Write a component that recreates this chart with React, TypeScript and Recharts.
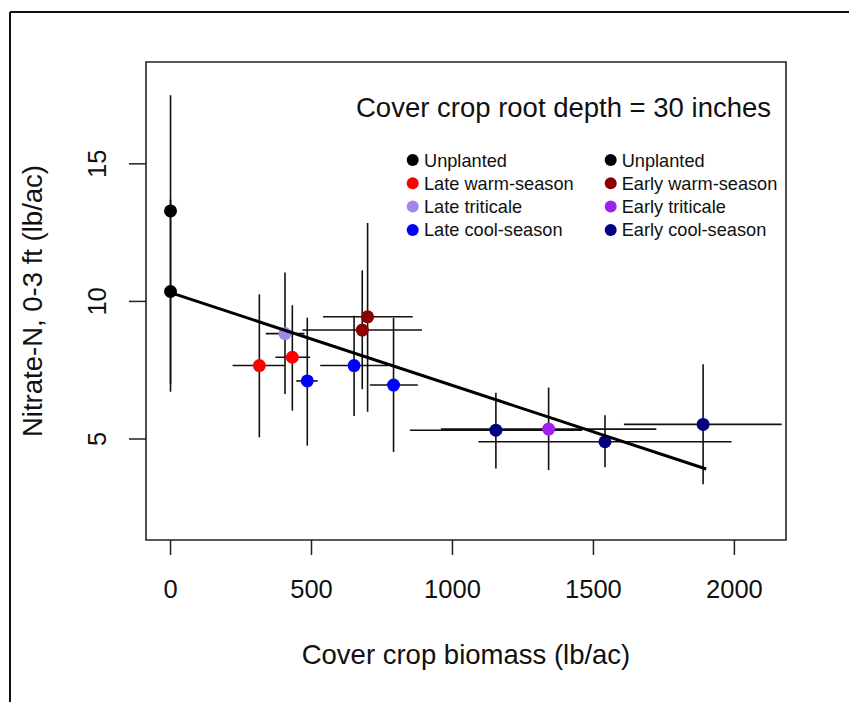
import React from "react";
import { ScatterChart, Scatter, XAxis, YAxis, ErrorBar, ReferenceArea } from "recharts";

// axis ranges (R's 4% padding around the data)
const X_DOMAIN: [number, number] = [-87, 2183];
const Y_DOMAIN: [number, number] = [1.33, 18.7];
const xTicks = [0, 500, 1000, 1500, 2000];
const yTicks = [5, 10, 15];

const groupNames = [
  "Unplanted",
  "Late warm-season",
  "Late triticale",
  "Late cool-season",
  "Early warm-season",
  "Early triticale",
  "Early cool-season",
];
const groupColors = ["#000000", "#ff0000", "#a383ec", "#0000ff", "#8b0000", "#a020f0", "#000080"];

// one entry per plotted point
const ptGroup = [0, 0, 1, 1, 2, 3, 3, 3, 4, 4, 5, 6, 6, 6];
const ptX = [0, 0, 315, 432, 406, 485, 651, 791, 699, 680, 1341, 1154, 1541, 1889];
const ptY = [13.29, 10.36, 7.67, 7.97, 8.83, 7.11, 7.67, 6.96, 9.44, 8.96, 5.36, 5.32, 4.9, 5.53];
const ptXLo = [0, 0, 220, 372, 338, 446, 531, 707, 541, 468, 959, 849, 1092, 1608];
const ptXHi = [0, 0, 406, 495, 475, 522, 771, 877, 859, 892, 1723, 1460, 1990, 2168];
const ptYLo = [6.72, 7.0, 5.06, 6.03, 6.64, 4.76, 5.84, 4.53, 5.99, 6.81, 3.87, 3.93, 3.97, 3.36];
const ptYHi = [17.49, 13.7, 10.26, 9.86, 11.05, 9.41, 9.48, 9.4, 12.85, 11.13, 6.87, 6.68, 5.86, 7.72];

// fitted regression line end points
const fitX = [0, 1900];
const fitY = [10.32, 3.91];

const chartTitle = "Cover crop root depth = 30 inches";
const legendLeft = [0, 1, 2, 3];
const legendRight = [0, 4, 5, 6];

const FONT = "'Liberation Sans', Arial, sans-serif";
const INK = "#111";

const groups = groupNames.map((_, g) =>
  ptX
    .map((x, i) => ({
      g: ptGroup[i],
      x,
      y: ptY[i],
      ex: [x - ptXLo[i], ptXHi[i] - x],
      ey: [ptY[i] - ptYLo[i], ptYHi[i] - ptY[i]],
    }))
    .filter((d) => d.g === g)
);
const fitData = fitX.map((x, i) => ({ x, y: fitY[i] }));

const XTick = (props: any) => {
  const { x, y, payload } = props;
  return (
    <text x={x} y={y + 41} textAnchor="middle" fontSize={25.5} fill={INK} fontFamily={FONT}>
      {payload.value}
    </text>
  );
};

const YTick = (props: any) => {
  const { x, y, payload } = props;
  return (
    <text
      transform={`translate(${x - 21}, ${y}) rotate(-90)`}
      textAnchor="middle"
      fontSize={25.5}
      fill={INK}
      fontFamily={FONT}
    >
      {payload.value}
    </text>
  );
};

export default function App() {
  return (
    <div style={{ position: "absolute", left: 0, top: 0, width: 849, height: 702, background: "#fff", fontFamily: FONT }}>
      <ScatterChart width={849} height={702} margin={{ top: 62, right: 63, bottom: 0, left: 0 }}>
        <XAxis
          type="number"
          dataKey="x"
          domain={X_DOMAIN}
          ticks={xTicks}
          interval={0}
          allowDataOverflow
          height={162}
          axisLine={false}
          tickSize={15}
          tickLine={{ stroke: "#222", strokeWidth: 1.5 }}
          tick={<XTick />}
          label={{
            value: "Cover crop biomass (lb/ac)",
            position: "insideBottom",
            offset: 38,
            fontSize: 27.5,
            fill: INK,
            fontFamily: FONT,
          }}
        />
        <YAxis
          type="number"
          dataKey="y"
          domain={Y_DOMAIN}
          ticks={yTicks}
          interval={0}
          allowDataOverflow
          width={146}
          axisLine={false}
          tickSize={17}
          tickLine={{ stroke: "#222", strokeWidth: 1.5 }}
          tick={<YTick />}
          label={{
            value: "Nitrate-N, 0-3 ft (lb/ac)",
            angle: -90,
            position: "insideLeft",
            offset: 32,
            fontSize: 27.5,
            fill: INK,
            fontFamily: FONT,
            style: { textAnchor: "middle" },
          }}
        />
        <ReferenceArea
          x1={X_DOMAIN[0]}
          x2={X_DOMAIN[1]}
          y1={Y_DOMAIN[0]}
          y2={Y_DOMAIN[1]}
          fill="none"
          stroke="#222"
          strokeWidth={1.6}
        />
        {groups.map((data, g) => (
          <Scatter
            key={groupNames[g]}
            data={data}
            isAnimationActive={false}
            shape={(p: any) => <circle cx={p.cx} cy={p.cy} r={6.5} fill={groupColors[g]} />}
          >
            <ErrorBar direction="x" dataKey={(d: any) => d.ex} width={0} stroke={INK} strokeWidth={1.6} />
            <ErrorBar direction="y" dataKey={(d: any) => d.ey} width={0} stroke={INK} strokeWidth={1.6} />
          </Scatter>
        ))}
        <Scatter
          data={fitData}
          isAnimationActive={false}
          line={{ stroke: "#000", strokeWidth: 3 }}
          shape={() => <g />}
        />
      </ScatterChart>
      <svg
        width={849}
        height={702}
        style={{ position: "absolute", left: 0, top: 0, pointerEvents: "none" }}
      >
        <line x1={10} y1={12} x2={849} y2={12} stroke={INK} strokeWidth={2} />
        <line x1={10} y1={12} x2={10} y2={702} stroke={INK} strokeWidth={2} />
        <text x={356} y={116.5} fontSize={27.5} fill={INK} fontFamily={FONT}>
          {chartTitle}
        </text>
        {[legendLeft, legendRight].map((col, c) =>
          col.map((g, r) => (
            <g key={`${c}-${r}`}>
              <circle cx={c === 0 ? 412.7 : 610.7} cy={160 + r * 23.3} r={6} fill={groupColors[g]} />
              <text
                x={c === 0 ? 424 : 621.7}
                y={166.5 + r * 23.3}
                fontSize={18.2}
                fill={INK}
                fontFamily={FONT}
              >
                {groupNames[g]}
              </text>
            </g>
          ))
        )}
      </svg>
    </div>
  );
}
